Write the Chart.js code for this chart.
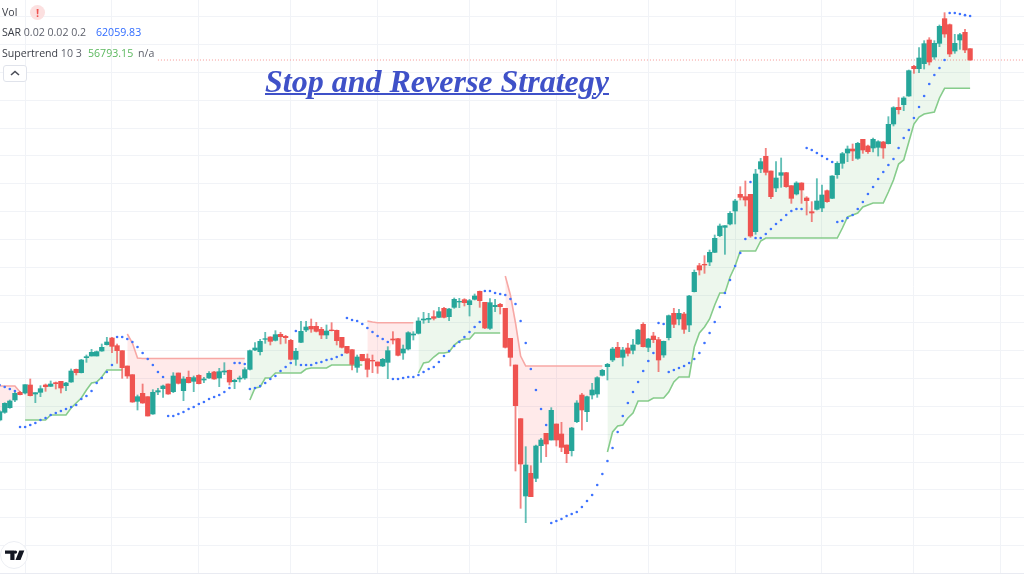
<!DOCTYPE html>
<html><head><meta charset="utf-8">
<style>
html,body{margin:0;padding:0;background:#fff;width:1024px;height:578px;overflow:hidden}
#wrap{position:absolute;left:0;top:0;width:1024px;height:573px;border-bottom:1px solid #e9ebf2}
canvas{position:absolute;left:0;top:0}
.t{position:absolute;font:10.6px "Open Sans",sans-serif;color:#5d606b;white-space:nowrap;line-height:14px}
.d{color:#3a3d46}
#title{position:absolute;left:265px;top:63px;font:italic bold 32px "Liberation Serif",serif;color:#3f51c8;text-decoration:underline;text-decoration-thickness:1.5px;white-space:nowrap;line-height:36px}
#bang{position:absolute;left:30px;top:5px;width:15px;height:15px;border-radius:50%;background:#fce0e0;color:#ef5350;font:bold 11px/15px "Open Sans",sans-serif;text-align:center}
#btn{position:absolute;left:3px;top:65px;width:22px;height:15px;border:1px solid #e0e3eb;border-radius:3px;background:#fff}
</style>
<script src="https://cdn.jsdelivr.net/npm/chart.js@4"></script>
</head><body>
<div id="wrap"><canvas id="c" width="1024" height="573"></canvas></div>
<div class="t d" style="left:2px;top:5px">Vol</div><div id="bang">!</div>
<div class="t d" style="left:2px;top:25px">SAR <span style="color:#5d606b">0.02 0.02 0.2</span></div>
<div class="t" style="left:96px;top:25px;color:#2f6bff">62059.83</div>
<div class="t d" style="left:2px;top:46px">Supertrend <span style="color:#5d606b">10 3</span></div>
<div class="t" style="left:88px;top:46px;color:#5cb85f">56793.15</div>
<div class="t" style="left:138px;top:46px">n/a</div>
<div id="btn"><svg width="22" height="15"><polyline points="7,9 11,5.5 15,9" fill="none" stroke="#4a4d57" stroke-width="1.6"/></svg></div>
<div id="title">Stop and Reverse Strategy</div>
<svg style="position:absolute;left:0;top:541px" width="30" height="30"><circle cx="14" cy="14" r="13.5" fill="#fff" stroke="#eceef3"/><path d="M5 9.5h9.5v9.5h-4.2v-6.2H5z M15.5 9.5a1.6 1.6 0 1 1 0 3.2a1.6 1.6 0 0 1 0-3.2z M19.3 9.5h5l-3.8 9.5h-5z" fill="#131722"/></svg>
<script>
const opens=[32910,33462,33798,34350,34902,34854,35430,34782,34902,35430,
35334,35598,35694,35382,35646,36558,36318,37398,37518,37518,
37878,38334,38814,38262,37902,36798,36174,34254,34830,34590,
33342,34926,35166,35502,34950,36294,35022,35982,35694,36126,
35790,35934,36366,35934,36366,36486,35670,35862,35934,36558,
37950,37830,38718,38886,38646,39078,38934,38646,37278,38502,
39390,39654,39654,39438,39030,39390,39366,38862,38214,37974,
36702,37638,37326,37206,37086,36798,37062,38742,38766,37734,
38022,39030,39150,40110,40158,40350,40302,40950,40350,41022,
41406,41574,41214,41598,42174,41382,39510,41070,41238,40950,
38790,36870,33006,27438,29070,28710,31062,31950,31470,32622,
31902,31110,30702,32790,34710,33510,34710,34782,36126,36750,
37230,38142,37422,38094,37926,38382,39798,38142,38958,38694,
37590,38838,40590,40182,40542,39750,42150,44022,44118,44286,
44982,46182,46782,47022,47958,49158,48990,49158,46470,50982,
51894,50838,49614,50526,50718,49782,49182,49974,48894,47910,
48078,48174,49422,48870,50574,51390,52134,52422,51750,53118,
52638,52494,52542,52926,52806,54222,55422,55614,56238,58374,
58206,58566,60270,59046,60030,61806,61374,59478,60270,60822,
59646];
const closes=[33510,34110,34278,34830,34734,35454,34662,34878,35166,35310,
35502,35526,35214,35574,36438,36318,37230,37470,37782,37830,
38142,38526,38214,37902,36678,36078,34206,34590,34134,33198,
34902,35022,35358,34782,36078,35550,35862,35598,35958,35526,
35862,36270,35862,36390,36438,35646,35766,35934,36534,37902,
38094,38574,38766,38574,39054,38910,38838,37278,37854,39294,
39606,39462,39294,39030,39318,39342,38622,38142,37734,36918,
37446,37182,36558,37158,36798,37278,37902,38670,37566,38022,
39198,39102,40038,40182,40230,40230,40710,40302,40902,41598,
41454,41358,41502,41838,41502,39534,41358,41166,41070,38142,
37422,33942,29742,29670,27390,31038,31470,31182,33606,31470,
30942,30486,32334,34134,33630,34590,35070,35958,36486,36918,
38022,37422,37950,37710,38310,39390,38190,38742,38694,37230,
38574,40422,39798,40590,39438,41838,43542,43710,44070,44982,
45990,46878,46902,47790,48678,48942,48750,46158,50622,51510,
50742,48990,50334,50718,49710,48870,49974,49470,48702,47814,
48678,49110,48630,50478,51390,52086,52422,52278,52830,52350,
52230,53118,52950,52494,54198,55398,55254,56094,58062,58206,
58974,60006,58686,60030,61254,60702,59262,60030,60654,59550,
58830];
const highs=[33582,34158,34350,34950,34974,35454,35862,34878,35382,35502,
35718,35646,35694,35622,36582,36582,37278,37590,37998,37878,
38382,38862,38862,38382,37902,36798,36174,34710,35502,34590,
35094,35190,35430,35502,36318,36294,36030,36438,36078,36174,
35982,36390,36414,36630,37038,36510,35838,36078,36678,37950,
38478,38718,39222,38910,39342,39222,39006,38718,38070,40014,
40014,40182,39942,39582,39750,39918,39390,38862,38214,37974,
37590,37638,37662,37590,37086,37350,38190,39270,38790,38310,
39270,39270,40278,40662,40590,40782,41022,41022,40950,41694,
41670,41646,41598,41982,42198,41382,41646,41598,41310,40950,
38790,36870,33006,30990,29622,31110,31590,31950,33798,32622,
32742,31110,32382,34302,34830,34638,35550,36030,36558,36990,
38142,38502,38142,38430,38718,39438,39918,38790,39222,38862,
38598,40470,40950,40878,40662,41886,43710,44190,44742,45150,
46230,47022,46902,47910,48798,49710,50118,49158,50958,51750,
52470,50838,51510,51774,50742,49782,50070,49998,48990,48630,
50286,49830,49470,50502,51510,52182,52638,52782,52902,53118,
52710,53214,53022,52974,54750,55470,56118,56190,58110,58446,
59718,60222,60438,60222,61350,62238,61422,60678,60750,61038,
59646];
const lows=[32838,33390,33750,34230,34710,34782,34638,34158,34590,34974,
35310,35142,34854,35022,35622,36150,36294,37062,37518,37518,
37854,38310,37758,36990,35910,35910,34182,33630,34110,33198,
33318,34734,34542,34758,34878,35502,34302,35574,34950,35502,
35598,35910,35838,35310,36174,35430,35166,35646,35838,36510,
37902,37590,38430,38310,38598,38382,38430,37230,36846,38478,
39270,39222,39246,38766,38766,39318,38310,38094,37710,36510,
36342,37158,36006,36318,36270,36750,35886,38382,37518,37278,
37950,38670,39102,39870,39918,40110,40278,40254,40062,40950,
40998,41118,40398,41550,41022,39486,39438,40710,40542,38094,
36798,29238,26550,25518,27390,28470,29862,30270,31470,31038,
30630,29838,30318,32718,32190,32790,34422,34542,36078,35790,
37110,37398,36798,37518,37662,38358,38166,37830,38478,36390,
37422,38670,39558,39750,39150,39270,42126,43350,43470,44022,
44958,46110,44838,46950,47022,48750,48318,46062,46278,50718,
50550,48846,49350,49662,49662,48510,49110,48510,47670,47190,
48030,47910,48582,48846,50310,51030,51510,51582,51678,52110,
52110,52206,51918,51750,52782,54078,54942,55182,56214,57870,
57918,58182,58470,58878,59790,60462,59070,59310,59598,59358,
58806];
const sar=[35430,35286,35142,34998,32406,32406,32550,32694,32910,33054,
33270,33414,33558,33702,33846,33990,34422,34638,34998,35574,
35934,36366,36870,38886,38886,38742,38526,38166,37734,37302,
36870,36366,36006,33198,33198,33342,33486,33702,33846,34062,
34206,34422,34566,34710,34926,35214,37014,37014,36942,35142,
35214,35358,35574,35862,36078,36438,36726,37014,39318,36870,
36870,36870,37014,37086,37230,37302,37446,37590,40254,40110,
40038,39822,39534,39246,38958,38742,38526,35862,35862,35934,
36006,36006,36150,36366,36582,36726,37086,37518,37878,38238,
38526,38886,39246,39606,39966,42198,42198,42054,41982,41910,
41622,41262,40038,38454,36582,35070,33702,32550,25494,25638,
25782,25998,26142,26286,26646,27078,27510,28230,29022,29958,
30894,32046,33198,34134,34926,35646,36438,37158,37734,39894,
39822,36366,36510,36654,36798,37014,37302,37734,38454,39174,
39966,41046,42054,42990,43998,44934,45942,50046,46014,46014,
46302,46662,47022,47310,47670,47958,48102,48102,52494,52350,
52134,51918,51702,51486,47166,47238,47454,47670,48102,48606,
49182,49686,50262,50766,51270,51702,52494,53214,53790,54654,
55446,56238,57102,57750,58254,58830,62214,62214,62142,62060,
61998];
const stUp=[null,null,null,null,null,32910,32910,32910,32910,32910,
33270,33270,33270,33270,33774,34134,34494,35070,35574,35646,
36006,36510,36510,36510,36510,null,null,null,null,null,
null,null,null,null,null,null,null,null,null,null,
null,null,null,null,null,null,null,null,null,34350,
35214,35286,35934,35934,36294,36294,36294,36294,36294,36294,
36582,36654,36654,36654,36654,36870,36870,36870,36870,36870,
36870,36870,null,null,null,null,null,null,null,null,
null,null,36294,37014,37086,37446,37734,37734,37806,38310,
38598,38742,38742,39174,39174,39174,39174,39174,39174,null,
null,null,null,null,null,null,null,null,null,null,
null,null,null,null,null,null,null,null,null,30606,
32046,32478,32550,33054,33414,34278,34278,34278,34494,34494,
34494,34926,35646,36006,36006,36006,38166,39174,39606,40182,
41190,42054,42054,43206,43998,45078,45078,45078,45078,45798,
46014,46014,46014,46014,46014,46014,46014,46014,46014,46014,
46014,46014,46014,46014,46014,46734,47526,47670,47814,48246,
48390,48534,48534,48534,49326,50190,51342,51630,52926,54222,
54726,54942,55014,55086,56094,56793,56793,56793,56793,56793,
56793];
const stDown=[35358,35358,35358,35358,34926,null,null,null,null,null,
null,null,null,null,null,null,null,null,null,null,
null,null,null,null,null,39102,38454,37374,37338,37338,
37338,37338,37338,37338,37338,37338,37338,37338,37338,37338,
37338,37338,37338,37338,37338,37338,37338,37338,37338,null,
null,null,null,null,null,null,null,null,null,null,
null,null,null,null,null,null,null,null,null,null,
null,null,40038,39966,39916,39916,39916,39916,39916,39916,
39916,39916,null,null,null,null,null,null,null,null,
null,null,null,null,null,null,null,null,null,43278,
41910,39894,37518,36798,36798,36798,36798,36798,36798,36798,
36798,36798,36798,36798,36798,36798,36798,36798,36798,null];
const lastPrice=58830, gridPrices=[61948,59944,57940,55936,53932,51928,49924,47920,45916,43912,41908,39904,37900,35896,33892,31888,29884,27880,25876,23872];
const gridCandles=[5,22,39,57,74,92,109,127,144,161,179,196];
const UP='#26a69a',DOWN='#ef5350',UPW='rgba(38,166,154,.72)',DOWNW='rgba(239,83,80,.72)';

const idx=opens.map((_,i)=>i);
const isUp=idx.map(i=>closes[i]>=opens[i]);
const pts=a=>a.map((v,i)=>({x:i,y:v===undefined?null:v}));
const GRID='#f1f3f7';
new Chart(document.getElementById('c'),{
 type:'bar',
 data:{datasets:[
  {type:'line',label:'mid',data:pts(idx.map(i=>(opens[i]+closes[i])/2)),borderWidth:0,borderColor:'transparent',pointRadius:0,fill:false,order:9},
  {type:'line',label:'Supertrend up',data:pts(stUp),borderColor:'#86cc8b',borderWidth:1.6,pointRadius:0,spanGaps:false,tension:0,order:6,
    fill:{target:0,above:'rgba(76,175,80,.1)',below:'rgba(76,175,80,.1)'}},
  {type:'line',label:'Supertrend down',data:pts(stDown),borderColor:'#f7a8a5',borderWidth:1.6,pointRadius:0,spanGaps:false,tension:0,order:6,
    fill:{target:0,above:'rgba(255,82,82,.12)',below:'rgba(255,82,82,.12)'}},
  {type:'line',label:'Last',data:[{x:31,y:lastPrice},{x:201,y:lastPrice}],borderColor:'rgba(239,83,80,.6)',borderWidth:1,borderDash:[1,2],pointRadius:0,order:5},
  {label:'wick',data:idx.map(i=>({x:i,y:[lows[i],highs[i]]})),backgroundColor:idx.map(i=>isUp[i]?UPW:DOWNW),barThickness:1.2,grouped:false,order:4},
  {label:'body',data:idx.map(i=>({x:i,y:[opens[i],closes[i]]})),backgroundColor:idx.map(i=>isUp[i]?UP:DOWN),barThickness:4.6,grouped:false,order:3},
  {type:'line',label:'SAR',data:pts(sar),showLine:false,pointRadius:1.3,pointBackgroundColor:'#3d72ff',pointBorderWidth:0,order:1}
 ]},
 options:{responsive:false,animation:false,events:[],
  layout:{padding:0,autoPadding:false},
  plugins:{legend:{display:false},tooltip:{enabled:false},title:{display:false}},
  scales:{
   x:{type:'linear',offset:false,min:0.078,max:200.55,
      ticks:{display:false},border:{display:false},grid:{color:GRID,drawTicks:false,offset:false},
      afterBuildTicks:s=>{s.ticks=gridCandles.map(v=>({value:v}))}},
   y:{type:'linear',min:63150-72*573,max:63150,
      ticks:{display:false},border:{display:false},grid:{color:GRID,drawTicks:false},
      afterBuildTicks:s=>{s.ticks=gridPrices.map(v=>({value:v}))}}
  }
 }
});
</script>
</body></html>
